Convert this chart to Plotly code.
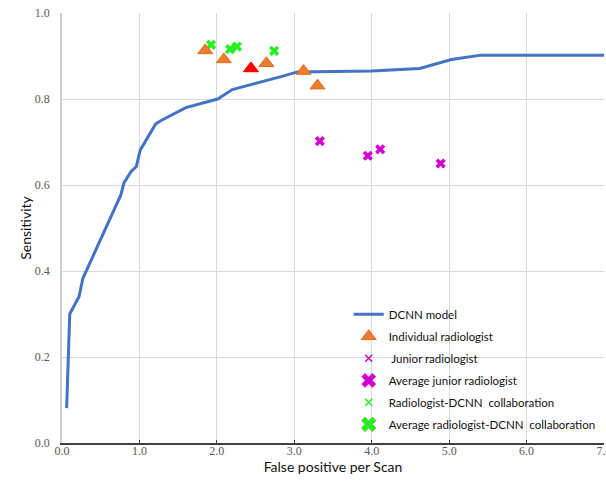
import plotly.graph_objects as go

# ---- data ----
dcnn_fp = [0.06, 0.10, 0.22, 0.27, 0.76, 0.80, 0.89, 0.96, 1.01, 1.21, 1.28, 1.60, 2.01, 2.20, 2.83, 3.04, 4.00, 4.62, 5.03, 5.41, 7.00]
dcnn_sens = [0.081, 0.300, 0.340, 0.383, 0.577, 0.605, 0.631, 0.643, 0.681, 0.742, 0.750, 0.780, 0.800, 0.822, 0.852, 0.863, 0.865, 0.871, 0.892, 0.902, 0.902]

indiv_fp = [1.85, 2.09, 2.64, 3.12, 3.30]
indiv_sens = [0.913, 0.892, 0.883, 0.865, 0.831]

avg_indiv_fp = [2.44]
avg_indiv_sens = [0.871]

junior_fp = [3.33, 3.95, 4.11, 4.89]
junior_sens = [0.702, 0.668, 0.683, 0.650]

collab_fp = [1.925, 2.17, 2.26, 2.74]
collab_sens = [0.926, 0.916, 0.922, 0.912]

x_ticks = [0, 1, 2, 3, 4, 5, 6, 7]
x_tick_labels = ["0.0", "1.0", "2.0", "3.0", "4.0", "5.0", "6.0", "7.0"]
y_ticks = [0, 0.2, 0.4, 0.6, 0.8, 1.0]
y_tick_labels = ["0.0", "0.2", "0.4", "0.6", "0.8", "1.0"]

ORANGE = "#ED7D31"
MAGENTA = "#D000D0"
GREEN = "#22F022"
BLUE = "#4472C4"

fig = go.Figure()

fig.add_trace(go.Scatter(x=dcnn_fp, y=dcnn_sens, mode="lines", name="DCNN model",
                         line=dict(color=BLUE, width=3), legendrank=1, legendgroup="g1"))
fig.add_trace(go.Scatter(x=junior_fp, y=junior_sens, mode="markers", showlegend=False,
                         marker=dict(symbol="x", size=9, color=MAGENTA, line=dict(width=0))))
fig.add_trace(go.Scatter(x=collab_fp, y=collab_sens, mode="markers", showlegend=False,
                         marker=dict(symbol="x", size=9, color=GREEN, line=dict(width=0))))
fig.add_trace(go.Scatter(x=indiv_fp, y=indiv_sens, mode="markers", name="Individual radiologist",
                         marker=dict(symbol="triangle-up", size=13, color=ORANGE,
                                     line=dict(color="#E06A1B", width=1)),
                         legendrank=2, legendgroup="g2"))
fig.add_trace(go.Scatter(x=avg_indiv_fp, y=avg_indiv_sens, mode="markers", showlegend=False,
                         marker=dict(symbol="triangle-up", size=13, color="#FF0000",
                                     line=dict(color="#E00000", width=1))))

# legend-only entries
fig.add_trace(go.Scatter(x=[None], y=[None], mode="markers", name="\u00a0Junior radiologist",
                         marker=dict(symbol="x-thin-open", size=7, color=MAGENTA,
                                     line=dict(color=MAGENTA, width=1.5)),
                         legendrank=3, legendgroup="g3"))
fig.add_trace(go.Scatter(x=[None], y=[None], mode="markers", name="Average junior radiologist",
                         marker=dict(symbol="x", size=13, color=MAGENTA, line=dict(width=0)),
                         legendrank=4, legendgroup="g4"))
fig.add_trace(go.Scatter(x=[None], y=[None], mode="markers",
                         name="Radiologist-DCNN\u00a0 collaboration",
                         marker=dict(symbol="x-thin-open", size=7, color=GREEN,
                                     line=dict(color=GREEN, width=1.5)),
                         legendrank=5, legendgroup="g5"))
fig.add_trace(go.Scatter(x=[None], y=[None], mode="markers",
                         name="Average radiologist-DCNN\u00a0 collaboration",
                         marker=dict(symbol="x", size=13, color=GREEN,
                                     line=dict(color="#7CCB4A", width=1)),
                         legendrank=6, legendgroup="g6"))

fig.update_layout(
    width=606, height=484,
    margin=dict(l=62, r=2, t=13, b=41),
    plot_bgcolor="white", paper_bgcolor="white",
    showlegend=True,
    legend=dict(x=0.529, y=0.333, xanchor="left", yanchor="top",
                bgcolor="rgba(0,0,0,0)", itemsizing="trace",
                font=dict(family="Lato", size=11.5, color="#111111"),
                tracegroupgap=3),
    xaxis=dict(range=[0, 7], tickvals=x_ticks, ticktext=x_tick_labels,
               automargin=False, ticklabeloverflow="allow",
               showgrid=True, gridcolor="#D9D9D9", gridwidth=1,
               zeroline=False, showline=True, linecolor="#404040", linewidth=1.5,
               ticks="inside", ticklen=3, tickcolor="#404040",
               ticklabelstandoff=-4,
               tickfont=dict(family="Liberation Serif", size=12, color="#595959"),
               title=dict(text="False positive per Scan", standoff=0,
                          font=dict(family="Lato", size=14, color="#111111"))),
    yaxis=dict(range=[0, 1.0], tickvals=y_ticks, ticktext=y_tick_labels,
               automargin=False,
               showgrid=True, gridcolor="#D9D9D9", gridwidth=1,
               zeroline=False, showline=True, linecolor="#D0D0D0", linewidth=1.5,
               ticks="", ticklabelstandoff=8,
               tickfont=dict(family="Liberation Serif", size=12, color="#595959"),
               title=dict(text="Sensitivity", standoff=0,
                          font=dict(family="Lato", size=14, color="#111111"))),
)

fig.write_html("out.html", config={"displayModeBar": False},
               post_script="document.body.style.margin='0';")
